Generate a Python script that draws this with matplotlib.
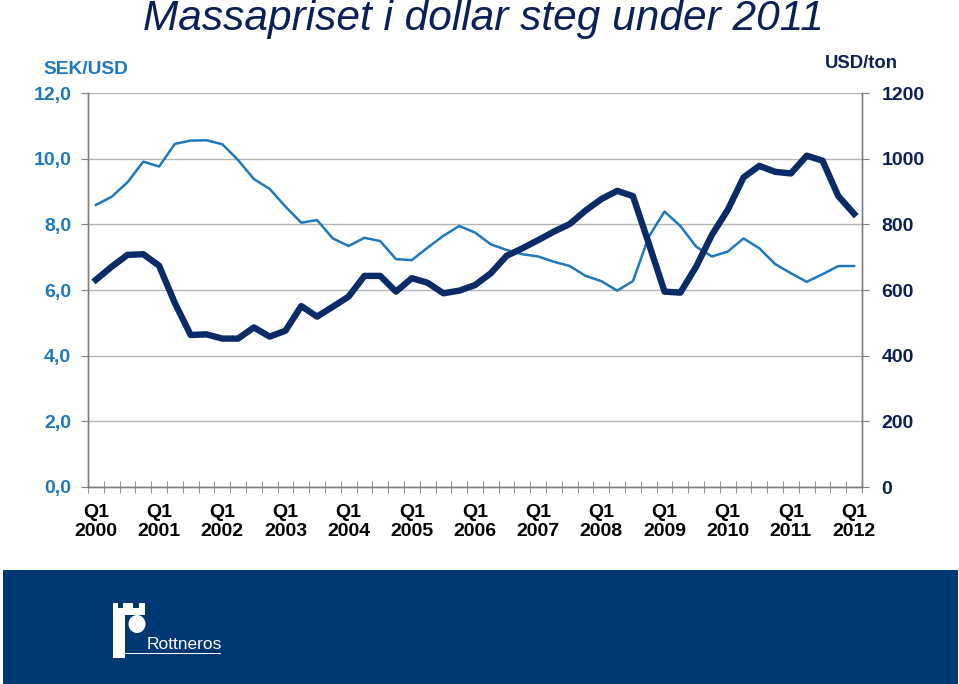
import matplotlib
matplotlib.use("Agg")
import matplotlib.pyplot as plt
import matplotlib.patches as mpatches
from matplotlib.ticker import FuncFormatter, MultipleLocator, FixedLocator

plt.rcParams['font.family'] = ['Liberation Sans', 'DejaVu Sans']

# quarterly values, Q1 2000 .. Q1 2012
sek_usd = [8.59, 8.84, 9.28, 9.91, 9.76, 10.45, 10.55, 10.56, 10.44, 9.96,
           9.38, 9.08, 8.54, 8.05, 8.13, 7.57, 7.34, 7.59, 7.49, 6.94,
           6.91, 7.29, 7.65, 7.95, 7.75, 7.39, 7.22, 7.09, 7.02, 6.86,
           6.73, 6.43, 6.27, 5.98, 6.27, 7.62, 8.39, 7.95, 7.32, 7.02,
           7.17, 7.57, 7.27, 6.79, 6.51, 6.25, 6.48, 6.73, 6.73]
usd_ton = [631, 671, 707, 709, 674, 560, 463, 465, 452, 452,
           486, 458, 476, 551, 519, 549, 580, 643, 643, 595,
           636, 622, 590, 598, 615, 651, 704, 727, 752, 778,
           801, 842, 877, 902, 886, 742, 595, 592, 671, 768,
           844, 943, 978, 960, 955, 1009, 994, 886, 832]
years = list(range(2000, 2013))

LIGHT = '#1f78bd'
DARK = '#0b2a68'
NAVY = '#0c2057'
BAND = '#003873'

fig = plt.figure(figsize=(9.59, 6.84), dpi=100)
W, H = 959, 684

ax = fig.add_axes([88 / W, 1 - 487 / H, 774 / W, 394 / H])
ax2 = ax.twinx()

x = list(range(len(sek_usd)))
ax.plot(x, sek_usd, color=LIGHT, lw=1.8, solid_joinstyle='round', zorder=3)
ax2.plot(x, usd_ton, color=DARK, lw=4.6, solid_joinstyle='round', zorder=3)

ax.set_xlim(-0.5, len(x) - 0.5)
ax.set_ylim(0, 12)
ax2.set_ylim(0, 1200)

ax.yaxis.set_major_locator(MultipleLocator(2))
ax.yaxis.set_major_formatter(FuncFormatter(lambda v, p: f"{v:.1f}".replace('.', ',')))
ax2.yaxis.set_major_locator(MultipleLocator(200))
ax2.yaxis.set_major_formatter(FuncFormatter(lambda v, p: f"{int(v)}"))

ax.grid(axis='y', color='#b4b4b4', lw=1.0)
ax.set_axisbelow(True)

# category axis: labels every fourth quarter, marks on the boundaries
ax.xaxis.set_major_locator(FixedLocator([4 * i for i in range(len(years))]))
ax.set_xticklabels([f"Q1\n{y}" for y in years])
ax.xaxis.set_minor_locator(FixedLocator([i - 0.5 for i in range(len(x) + 1)]))
ax.tick_params(axis='x', which='major', length=0, pad=12.5, labelsize=14,
               labelcolor='black')
ax.tick_params(axis='x', which='minor', length=8, direction='inout',
               color='#808080')
for lbl in ax.get_xticklabels():
    lbl.set_fontweight('bold')
    lbl.set_linespacing(1.15)

ax.tick_params(axis='y', length=5, color='#808080', pad=7, labelsize=14,
               labelcolor=LIGHT)
ax2.tick_params(axis='y', length=5, color='#808080', pad=9, labelsize=14,
                labelcolor=NAVY)
for lbl in ax.get_yticklabels() + ax2.get_yticklabels():
    lbl.set_fontweight('bold')

for a in (ax, ax2):
    a.spines['top'].set_visible(False)
    for s in ('left', 'right', 'bottom'):
        a.spines[s].set_color('#808080')
        a.spines[s].set_linewidth(1.0)

fig.text(483 / W, 1 - 19 / H, "Massapriset i dollar steg under 2011",
         ha='center', va='center', fontsize=30.5, style='italic', color=NAVY)
fig.text(86 / W, 1 - 70 / H, "SEK/USD", ha='center', va='center',
         fontsize=13.8, fontweight='bold', color=LIGHT)
fig.text(861 / W, 1 - 63 / H, "USD/ton", ha='center', va='center',
         fontsize=13.3, fontweight='bold', color=NAVY)

# footer band with logo
fig.patches.append(mpatches.Rectangle((3 / W, 0), 955 / W, 114 / H,
                                      transform=fig.transFigure,
                                      facecolor=BAND, edgecolor='none'))


def px_rect(x0, y0, x1, y1):
    return mpatches.Rectangle((x0 / W, 1 - y1 / H), (x1 - x0) / W, (y1 - y0) / H,
                              transform=fig.transFigure, facecolor='white',
                              edgecolor='none')


for r in [px_rect(113, 608, 145, 615), px_rect(113, 603, 118, 609),
          px_rect(123, 603, 133, 609), px_rect(139, 603, 145, 609),
          px_rect(113, 608, 125, 658), px_rect(113, 652.5, 221, 654)]:
    fig.patches.append(r)
fig.patches.append(mpatches.Ellipse((137 / W, 1 - 624 / H), 17 / W, 18 / H,
                                    transform=fig.transFigure,
                                    facecolor='white', edgecolor='none'))
fig.text(147 / W, 1 - 649 / H, "Rottneros", ha='left', va='baseline',
         fontsize=12.5, color='white')

fig.savefig("out.png", dpi=100)
